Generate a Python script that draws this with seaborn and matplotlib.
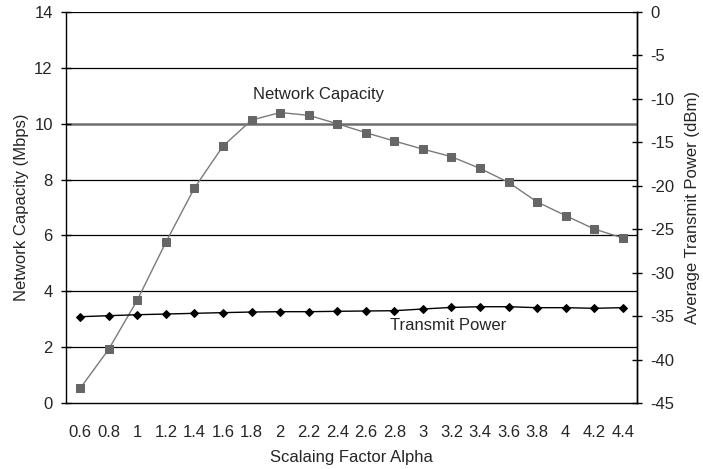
import matplotlib
matplotlib.use("Agg")
import matplotlib.pyplot as plt
import numpy as np
import pandas as pd
import seaborn as sns

# Scaling factor alpha (categorical x axis)
alpha_labels = ["0.6", "0.8", "1", "1.2", "1.4", "1.6", "1.8", "2", "2.2", "2.4",
                "2.6", "2.8", "3", "3.2", "3.4", "3.6", "3.8", "4", "4.2", "4.4"]
# Network capacity in Mbps (left axis)
capacity = [0.53, 1.93, 3.69, 5.76, 7.70, 9.20, 10.13, 10.40, 10.30, 10.00,
            9.68, 9.38, 9.09, 8.82, 8.40, 7.90, 7.20, 6.71, 6.23, 5.91]
# Average transmit power in dBm (right axis)
tx_power = [-35.07, -34.95, -34.84, -34.76, -34.68, -34.60, -34.53, -34.49, -34.49, -34.45,
            -34.41, -34.38, -34.18, -34.00, -33.92, -33.92, -34.03, -34.03, -34.10, -34.03]

sns.set_style("white")
plt.rcParams["font.family"] = ["Liberation Sans", "DejaVu Sans"]
plt.rcParams["axes.unicode_minus"] = False

df = pd.DataFrame({
    "pos": np.arange(len(alpha_labels)),
    "alpha": alpha_labels,
    "capacity": capacity,
    "power": tx_power,
})

fig = plt.figure(figsize=(7.03, 4.69), dpi=100)
ax = fig.add_axes([66 / 703, 66 / 469, (637 - 66) / 703, (403 - 12) / 469])

# horizontal grid lines on the capacity scale
for yv in [2, 4, 6, 8, 12, 14]:
    ax.axhline(yv, color="black", lw=0.9, zorder=0)
ax.axhline(10, color="#6e6e6e", lw=1.8, zorder=0)

sns.lineplot(data=df, x="pos", y="capacity", ax=ax, color="#7a7a7a", lw=1.0,
             marker="s", markersize=5.5, markerfacecolor="#666666",
             markeredgecolor="#666666", zorder=3)

ax.set_xlim(-0.5, len(alpha_labels) - 0.5)
ax.set_ylim(0, 14)
ax.set_yticks(np.arange(0, 15, 2))
ax.set_xticks(df["pos"])
ax.set_xticklabels(alpha_labels)
ax.set_xticks(np.arange(-0.5, len(alpha_labels), 1.0), minor=True)
ax.tick_params(axis="x", which="major", length=0, pad=16, labelsize=12)
ax.tick_params(axis="x", which="minor", length=8, direction="inout", width=1, color="black")
ax.tick_params(axis="y", which="major", length=7, direction="inout", width=1,
               color="black", labelsize=12, pad=6)
ax.set_xlabel("Scalaing Factor Alpha", fontsize=12, labelpad=7)
ax.set_ylabel("Network Capacity (Mbps)", fontsize=12, labelpad=4)
for s in ["left", "bottom", "right"]:
    ax.spines[s].set_color("black")
    ax.spines[s].set_linewidth(1.0)
ax.spines["top"].set_visible(False)

ax2 = ax.twinx()
sns.lineplot(data=df, x="pos", y="power", ax=ax2, color="black", lw=1.0,
             marker="D", markersize=4.5, markerfacecolor="black",
             markeredgecolor="black", zorder=3)
ax2.set_ylim(-45, 0)
ax2.set_yticks(np.arange(-45, 1, 5))
ax2.tick_params(axis="y", which="major", length=7, direction="inout", width=1,
                color="black", labelsize=12, pad=6)
ax2.set_ylabel("Average Transmit Power (dBm)", fontsize=12, labelpad=8)
ax2.set_xlabel("")
for s in ["left", "bottom", "top"]:
    ax2.spines[s].set_visible(False)
ax2.spines["right"].set_color("black")
ax2.spines["right"].set_linewidth(1.0)

ax.text(6.05, 11.05, "Network Capacity", fontsize=12, ha="left", va="center")
ax2.text(10.85, -36.1, "Transmit Power", fontsize=12, ha="left", va="center")

fig.savefig("out.png", dpi=100)
